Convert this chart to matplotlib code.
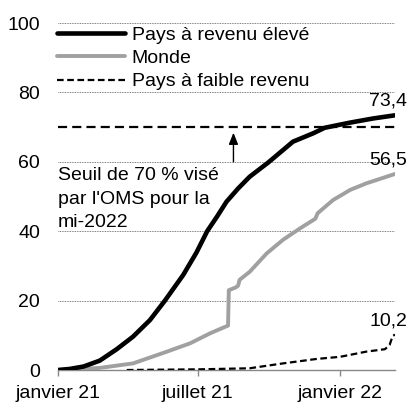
import matplotlib
matplotlib.use("Agg")
import matplotlib.pyplot as plt
import pandas as pd

plt.rcParams['font.family'] = ['Liberation Sans', 'DejaVu Sans']

# Vaccination coverage (% of population), by date
high_dates = ["2021-01-01", "2021-01-16", "2021-02-03", "2021-02-24", "2021-03-18",
              "2021-04-08", "2021-04-30", "2021-05-19", "2021-06-12", "2021-06-29",
              "2021-07-13", "2021-07-26", "2021-08-07", "2021-08-22", "2021-09-06",
              "2021-09-30", "2021-11-01", "2021-11-27", "2021-12-12", "2022-01-14",
              "2022-02-13", "2022-03-13"]
high_vals = [0.0, 0.3, 1.0, 2.7, 6.0, 9.6, 14.4, 19.9, 27.4, 33.8, 40.0, 44.3, 48.5,
             52.3, 55.7, 59.8, 65.8, 68.2, 69.8, 71.3, 72.5, 73.4]

world_dates = ["2021-01-01", "2021-01-21", "2021-02-24", "2021-04-08", "2021-05-22",
               "2021-06-21", "2021-07-17", "2021-08-09", "2021-08-10", "2021-08-19",
               "2021-08-22", "2021-08-24", "2021-09-06", "2021-09-28", "2021-10-19",
               "2021-11-10", "2021-11-30", "2021-12-03", "2021-12-23", "2022-01-14",
               "2022-02-04", "2022-03-13"]
world_vals = [0.0, 0.2, 0.6, 1.9, 5.3, 7.7, 10.6, 12.8, 23.0, 23.8, 24.3, 26.0, 28.3,
              33.6, 37.5, 40.8, 43.6, 45.2, 49.0, 51.9, 53.8, 56.5]

low_dates = ["2021-03-31", "2021-07-04", "2021-09-06", "2021-10-19", "2021-12-02",
             "2022-01-01", "2022-02-04", "2022-02-28", "2022-03-06", "2022-03-10",
             "2022-03-13"]
low_vals = [0.0, 0.2, 0.5, 1.9, 3.2, 3.8, 5.3, 6.0, 7.2, 9.8, 10.2]

series_labels = ["Pays à revenu élevé", "Monde", "Pays à faible revenu"]
end_labels = ["73,4", "56,5", "10,2"]
tick_dates = ["2021-01-01", "2021-07-01", "2022-01-01"]
tick_labels = ["janvier 21", "juillet 21", "janvier 22"]
y_ticks = [0, 20, 40, 60, 80, 100]
target = 70

FS = 14

hd = pd.to_datetime(high_dates)
wd = pd.to_datetime(world_dates)
ld = pd.to_datetime(low_dates)

fig = plt.figure(figsize=(4.12, 4.05), dpi=100)
ax = fig.add_axes([0.1408, 0.0864, 0.8179, 0.8568])

x0 = pd.Timestamp("2021-01-01")
x1 = pd.Timestamp("2022-03-13")
ax.set_xlim(x0, x1)
ax.set_ylim(0, 100)

# dotted horizontal grid
for v in y_ticks[1:]:
    ax.axhline(v, color="#555555", lw=0.6, ls=(0, (1, 1)), zorder=1)

# WHO 70 % target
ax.axhline(target, color="black", lw=1.6, ls=(0, (4.1, 2.3)), zorder=2)

l1, = ax.plot(hd, high_vals, color="black", lw=3.3, solid_capstyle="round",
              solid_joinstyle="round", zorder=4)
l2, = ax.plot(wd, world_vals, color="#a0a0a0", lw=2.8, solid_capstyle="round",
              solid_joinstyle="round", zorder=3)
l3, = ax.plot(ld, low_vals, color="black", lw=1.6, ls=(0, (3.0, 1.6)), zorder=3)

# end-of-series values
for d, v, lab in zip([hd[-1], wd[-1], ld[-1]],
                     [high_vals[-1], world_vals[-1], low_vals[-1]], end_labels):
    ax.annotate(lab, xy=(d, v), xytext=(9, 4), textcoords="offset points",
                ha="right", va="bottom", fontsize=FS)

# arrow towards the target line and its note
arrow_x = pd.Timestamp("2021-08-16")
ax.annotate("", xy=(arrow_x, target - 1.6), xytext=(arrow_x, 60),
            arrowprops=dict(arrowstyle="-|>,head_length=0.7,head_width=0.28",
                            mutation_scale=10, color="black", lw=1.0,
                            shrinkA=0, shrinkB=0), zorder=5)
ax.text(x0, 58.4, "Seuil de 70 % visé\npar l'OMS pour la\nmi-2022",
        ha="left", va="top", fontsize=FS, linespacing=1.5, zorder=5)

leg = ax.legend([l1, l2, l3], series_labels, loc="upper left",
                bbox_to_anchor=(57 / 412, 1 - 26 / 405), bbox_transform=fig.transFigure,
                frameon=False, fontsize=FS, handlelength=3.5, handletextpad=0.35,
                labelspacing=0.3, borderpad=0, borderaxespad=0)

for s in ["top", "right", "left"]:
    ax.spines[s].set_visible(False)
ax.spines["bottom"].set_color("#888888")
ax.spines["bottom"].set_linewidth(1.0)

ax.set_xticks(pd.to_datetime(tick_dates))
ax.set_xticklabels(tick_labels, fontsize=FS)
ax.set_yticks(y_ticks)
ax.set_yticklabels([str(v) for v in y_ticks], fontsize=FS)
ax.tick_params(axis="x", length=4, color="#888888", width=1.0, pad=7)
ax.tick_params(axis="y", length=0, pad=13)

fig.savefig("out.png", dpi=100)
